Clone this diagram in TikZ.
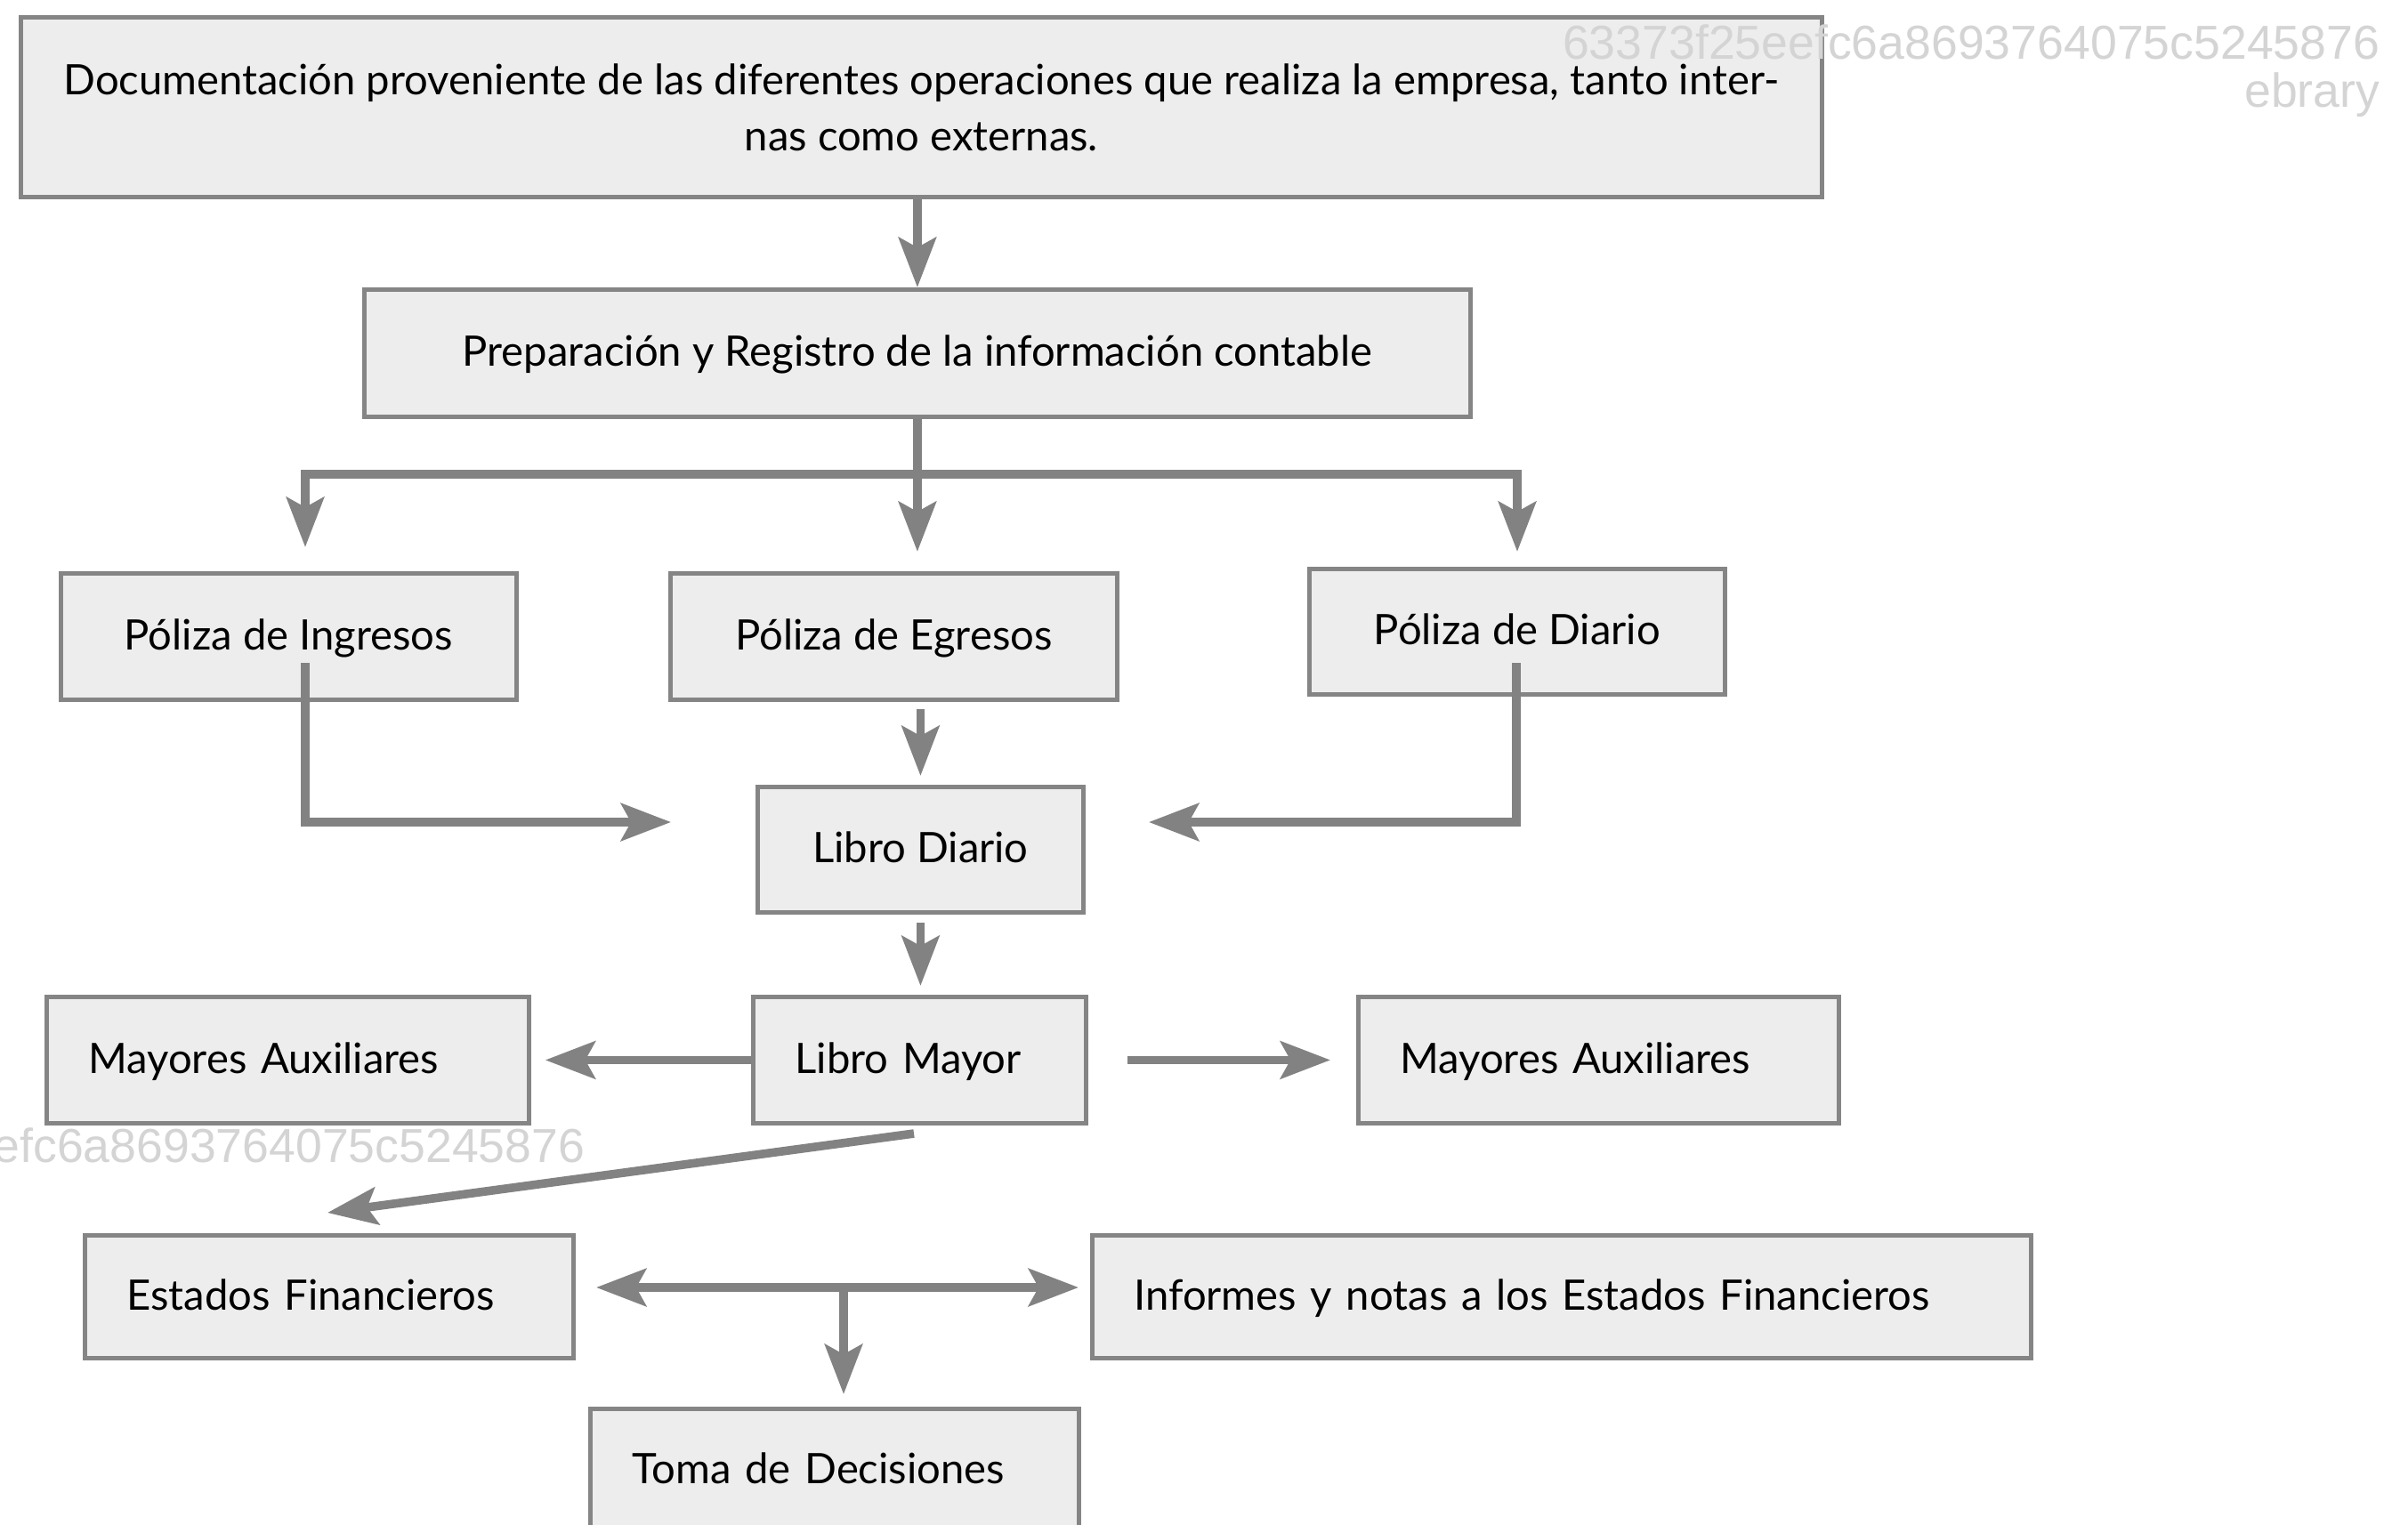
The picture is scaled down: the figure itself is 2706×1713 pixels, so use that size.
\documentclass[tikz,border=0pt]{standalone}
\usepackage{fontspec}
\setmainfont{Lato}
\newfontfamily\wmfont{Liberation Sans}
\usetikzlibrary{arrows.meta,calc}
\definecolor{boxfill}{HTML}{EDEDED}
\definecolor{boxline}{HTML}{858585}
\definecolor{arrowgray}{HTML}{828282}
\definecolor{wmgray}{HTML}{D4D4D4}
\begin{document}
\begin{tikzpicture}[x=0.25pt,y=-0.25pt,
  basebox/.style={draw=boxline, fill=boxfill, line width=1.2pt, inner sep=0pt,
    anchor=north west, font=\fontsize{11.8}{15.75}\selectfont},
  oneline/.style={text height=9pt, text depth=1.5pt},
  corners/.style n args={4}{at={(#1,#2)},
    minimum width={(#3-#1)*0.25pt}, minimum height={(#4-#2)*0.25pt}},
  cbox/.style n args={4}{basebox, oneline, corners={#1}{#2}{#3}{#4}},
  lbox/.style n args={4}{basebox, oneline, corners={#1}{#2}{#3}{#4},
    text width={(#3-#1-94)*0.25pt}, align=left, inner xsep=11.75pt},
  conn/.style={draw=arrowgray, line width=2.4pt},
  tip/.tip={Stealth[length=14pt, width=10.5pt, inset=2.8pt]},
  arr/.style={conn, -tip},
  arr2/.style={conn, tip-tip},
  wm/.style={font=\wmfont\fontsize{13.4}{15}\selectfont, text=wmgray, inner sep=0pt}
]
\useasboundingbox (0,0) rectangle (2706,1713);

% boxes
\node[basebox, corners={21}{17}{2045}{219}, align=center] (top)
  {\hbox to 482pt{Documentación proveniente de las diferentes operaciones que realiza la empresa, tanto inter-}\\nas como externas.};
\node[cbox={407}{323}{1650}{466}] (prep) {Preparación y Registro de la información contable};
\node[cbox={66}{642}{578}{784}] (ping) {Póliza de Ingresos};
\node[cbox={751}{642}{1253}{784}] (pegr) {Póliza de Egresos};
\node[cbox={1469}{637}{1936}{778}] (pdia) {Póliza de Diario};
\node[cbox={849}{882}{1215}{1023}] (ldia) {Libro Diario};
\node[lbox={844}{1118}{1218}{1260}] (lmay) {Libro Mayor};
\node[lbox={50}{1118}{592}{1260}] (maL) {Mayores Auxiliares};
\node[lbox={1524}{1118}{2064}{1260}] (maR) {Mayores Auxiliares};
\node[lbox={93}{1386}{642}{1524}] (est) {Estados Financieros};
\node[lbox={1225}{1386}{2280}{1524}] (inf) {Informes y notas a los Estados Financieros};
\node[lbox={661}{1581}{1210}{1719}] (toma) {Toma de Decisiones};

% junctions and free ends of the connectors
\coordinate (busL) at (343,533);
\coordinate (busR) at (1705,533);
\coordinate (ingStart) at (343,745);
\coordinate (ingEnd) at (754,924);
\coordinate (diaStart) at (1704,745);
\coordinate (diaEnd) at (1291,924);
\coordinate (diagS) at (1027,1274);
\coordinate (diagE) at (368,1363);
\coordinate (biL) at (670,1447);
\coordinate (biR) at (1212,1447);
\coordinate (biM) at (948,1447);

% connectors
\draw[arr] (top.south -| prep.north) -- (prep.north);
\draw[conn, line cap=rect] (busL) -- (busR);
\draw[arr, shorten >=5.5pt] (prep.south) -- (prep.south |- pegr.north);
\draw[arr, shorten >=6.75pt] (busL) -- (busL |- ping.north);
\draw[arr, shorten >=4.25pt] (busR) -- (busR |- pdia.north);
\draw[arr] (ingStart) |- (ingEnd);
\draw[arr] (diaStart) |- (diaEnd);
\draw[arr, shorten <=2pt, shorten >=2.5pt] (pegr.south -| ldia.north) -- (ldia.north);
\draw[arr, shorten <=2.25pt, shorten >=2.5pt] (ldia.south) -- (lmay.north -| ldia.south);
\draw[arr, shorten >=4pt] (lmay.west) -- (maL.east |- lmay.west);
\draw[arr, shorten <=11pt, shorten >=7.25pt] (lmay.east) -- (maR.west |- lmay.east);
\draw[arr] (diagS) -- (diagE);
\draw[arr2] (biL) -- (biR);
\draw[arr, shorten >=3.5pt] (biM) -- (biM |- toma.north);

% stamped identifiers
\node[wm, anchor=east] (wm1) at (2675,47) {63373f25eefc6a8693764075c5245876};
\node[wm, anchor=east] (wm2) at (2675,107) {ebrary};
\node[wm, anchor=east] (wm3) at (658,1287) {efc6a8693764075c5245876};
\end{tikzpicture}
\end{document}
